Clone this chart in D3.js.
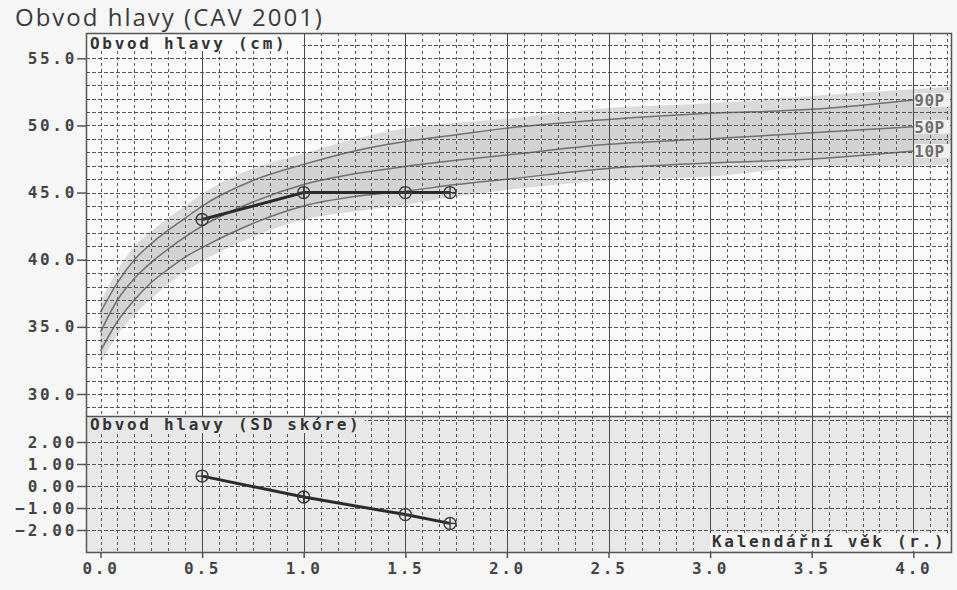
<!DOCTYPE html>
<html lang="cs">
<head>
    <meta charset="utf-8">
    <title>Obvod hlavy (CAV 2001)</title>
    <script src="https://d3js.org/d3.v7.min.js"></script>
    <style>
        html, body {
            margin: 0;
            padding: 0;
            background: #f6f6f6;
        }
        .mono {
            font-family: "DejaVu Sans Mono", monospace;
            font-weight: bold;
            font-size: 16px;
            letter-spacing: 2.7px;
        }
        .title {
            font-family: "Open Sans", sans-serif;
            font-size: 24px;
            letter-spacing: 2px;
            fill: #3a3a3a;
        }
        .grid line {
            stroke-width: 1px;
            shape-rendering: crispEdges;
        }
    </style>
</head>
<body>
<script type="text/javascript">

    // ages in years for the reference percentile curves
    var refAge = [0, 1/12, 2/12, 3/12, 4/12, 5/12, 0.5, 0.75, 1.0, 1.25, 1.5, 1.75, 2.0, 2.5, 3.0, 3.5, 4.0, 4.2];
    var p97 = [36.9, 39.2, 41.0, 42.1, 43.1, 44.0, 44.9, 46.8, 47.9, 49.0, 49.8, 50.2, 50.5, 51.3, 51.65, 52.2, 52.7, 52.9];
    var p90 = [36.1, 38.3, 40.0, 41.2, 42.2, 43.1, 44.0, 45.9, 47.1, 48.1, 48.8, 49.3, 49.8, 50.45, 50.9, 51.2, 51.9, 52.1];
    var p50 = [34.6, 37.0, 38.6, 39.8, 40.8, 41.7, 42.5, 44.3, 45.6, 46.4, 46.95, 47.4, 47.8, 48.6, 49.0, 49.45, 49.9, 50.05];
    var p10 = [33.2, 35.4, 37.0, 38.3, 39.3, 40.2, 40.9, 42.7, 44.0, 44.7, 45.1, 45.6, 46.0, 46.8, 47.2, 47.5, 48.1, 48.3];
    var p3  = [32.3, 34.4, 35.9, 37.1, 38.2, 39.1, 39.9, 41.7, 43.0, 43.6, 44.1, 44.7, 45.2, 45.9, 46.2, 46.9, 47.0, 47.1];
    var pctLabels = ["90P", "50P", "10P"];

    // measured child
    var childAge = [0.5, 1.0, 1.5, 1.72];
    var childHead = [43.0, 45.0, 45.0, 45.0];
    var childSD = [0.45, -0.5, -1.3, -1.7];

    var xTicks = [0, 0.5, 1, 1.5, 2, 2.5, 3, 3.5, 4];
    var headTicks = [30, 35, 40, 45, 50, 55];
    var sdTicks = [-2, -1, 0, 1, 2];

    var w = 957, h = 590;
    var fLeft = 86, fRight = 951, fTop = 33, fMid = 416, fBottom = 552;

    var x = d3.scaleLinear().domain([0, 4]).range([100.5, 913.3]);
    var yHead = d3.scaleLinear().domain([30, 55]).range([394, 58.3]);
    var ySD = d3.scaleLinear().domain([-2, 2]).range([530, 442]);

    var svg = d3.select("body").append("svg")
        .attr("width", w)
        .attr("height", h);

    var defs = svg.append("defs");
    defs.append("clipPath").attr("id", "clipTop").append("rect")
        .attr("x", fLeft).attr("y", fTop).attr("width", fRight - fLeft).attr("height", fMid - fTop);
    defs.append("clipPath").attr("id", "clipBot").append("rect")
        .attr("x", fLeft).attr("y", fMid).attr("width", fRight - fLeft).attr("height", fBottom - fMid);

    // panel backgrounds
    svg.append("rect").attr("x", fLeft).attr("y", fTop).attr("width", fRight - fLeft).attr("height", fMid - fTop)
        .attr("fill", "#fafafa");
    svg.append("rect").attr("x", fLeft).attr("y", fMid).attr("width", fRight - fLeft).attr("height", fBottom - fMid)
        .attr("fill", "#e8e8e8");

    // percentile bands
    var topG = svg.append("g").attr("clip-path", "url(#clipTop)");
    var rows = refAge.map(function(a, i) {
        return {a: a, p3: p3[i], p10: p10[i], p50: p50[i], p90: p90[i], p97: p97[i]};
    });
    var band = function(lo, hi) {
        return d3.area()
            .x(function(d) { return x(d.a); })
            .y0(function(d) { return yHead(d[lo]); })
            .y1(function(d) { return yHead(d[hi]); })
            .curve(d3.curveMonotoneX);
    };
    topG.append("path").datum(rows).attr("d", band("p3", "p97")).attr("fill", "#dadada");
    topG.append("path").datum(rows).attr("d", band("p10", "p90")).attr("fill", "#d2d2d2");

    // grid, month lines + cm lines
    var months = d3.range(0, 51);
    var grid = svg.append("g").attr("class", "grid");
    var gTop = grid.append("g").attr("clip-path", "url(#clipTop)");
    var gBot = grid.append("g").attr("clip-path", "url(#clipBot)");

    [gTop, gBot].forEach(function(g, k) {
        var y0 = k == 0 ? fTop : fMid, y1 = k == 0 ? fMid : fBottom;
        g.selectAll("line.v").data(months).enter().append("line")
            .attr("x1", function(m) { return Math.round(x(m / 12)) + 0.5; })
            .attr("x2", function(m) { return Math.round(x(m / 12)) + 0.5; })
            .attr("y1", y0).attr("y2", y1)
            .attr("stroke-dasharray", function(m) { return (m % 6 == 0 && m > 0) ? null : "3,3"; })
            .attr("stroke", function(m) { return (m % 6 == 0 && m > 0) ? "#4a4a4a" : "#5a5a5a"; });
    });

    gTop.selectAll("line.h").data(d3.range(28, 58)).enter().append("line")
        .attr("x1", fLeft).attr("x2", fRight)
        .attr("y1", function(v) { return Math.round(yHead(v)) + 0.5; })
        .attr("y2", function(v) { return Math.round(yHead(v)) + 0.5; })
        .attr("stroke", "#555")
        .attr("stroke-dasharray", "4,2");
    gBot.selectAll("line.h").data(d3.range(-3, 4)).enter().append("line")
        .attr("x1", fLeft).attr("x2", fRight)
        .attr("y1", function(v) { return Math.round(ySD(v)) + 0.5; })
        .attr("y2", function(v) { return Math.round(ySD(v)) + 0.5; })
        .attr("stroke", "#555")
        .attr("stroke-dasharray", "4,2");

    // percentile lines
    var curveLine = function(key) {
        return d3.line()
            .x(function(d) { return x(d.a); })
            .y(function(d) { return yHead(d[key]); })
            .curve(d3.curveMonotoneX);
    };
    var upTo4 = rows.filter(function(d) { return d.a <= 4; });
    ["p90", "p50", "p10"].forEach(function(k) {
        topG.append("path").datum(upTo4).attr("d", curveLine(k))
            .attr("fill", "none").attr("stroke", "#707070").attr("stroke-width", 1.5);
    });

    // percentile labels
    var last = upTo4[upTo4.length - 1];
    var lab = svg.append("g");
    [last.p90, last.p50, last.p10].forEach(function(v, i) {
        lab.append("rect").attr("x", x(4) + 1).attr("y", yHead(v) - 7).attr("width", fRight - x(4) - 2).attr("height", 14)
            .attr("fill", "#f0f0f0");
        lab.append("text").attr("class", "mono")
            .attr("x", x(4) + 1).attr("y", yHead(v) + 6)
            .attr("fill", "#6e6e6e").style("letter-spacing", "0.5px")
            .text(pctLabels[i]);
    });

    // panel title boxes
    svg.append("rect").attr("x", fLeft + 1).attr("y", fTop + 1).attr("width", x(1) - fLeft - 2).attr("height", 17)
        .attr("fill", "#fafafa");
    svg.append("text").attr("class", "mono").attr("x", 90).attr("y", 49).attr("fill", "#333")
        .text("Obvod hlavy (cm)");
    svg.append("rect").attr("x", fLeft + 1).attr("y", fMid + 1).attr("width", 278).attr("height", 16)
        .attr("fill", "#e8e8e8");
    svg.append("text").attr("class", "mono").attr("x", 90).attr("y", 430).attr("fill", "#333")
        .text("Obvod hlavy (SD skóre)");
    svg.append("rect").attr("x", 710).attr("y", 533).attr("width", fRight - 711).attr("height", 18)
        .attr("fill", "#f4f4f4");
    svg.append("text").attr("class", "mono").attr("x", 712).attr("y", 547).attr("fill", "#333")
        .text("Kalendářní věk (r.)");

    // child data
    var childRows = childAge.map(function(a, i) { return {a: a, v: childHead[i], sd: childSD[i]}; });
    var drawSeries = function(yScale, key) {
        svg.append("path").datum(childRows)
            .attr("d", d3.line().x(function(d) { return x(d.a); }).y(function(d) { return yScale(d[key]); }))
            .attr("fill", "none").attr("stroke", "#2a2a2a").attr("stroke-width", 3);
        var m = svg.append("g").selectAll("g").data(childRows).enter().append("g")
            .attr("transform", function(d) { return "translate(" + x(d.a) + "," + yScale(d[key]) + ")"; });
        m.append("circle").attr("r", 6).attr("fill", "none").attr("stroke", "#3a3a3a").attr("stroke-width", 1.4);
        m.append("line").attr("x1", -6).attr("x2", 6).attr("stroke", "#3a3a3a").attr("stroke-width", 1.4);
        m.append("line").attr("y1", -6).attr("y2", 6).attr("stroke", "#3a3a3a").attr("stroke-width", 1.4);
    };
    drawSeries(yHead, "v");
    drawSeries(ySD, "sd");

    // frames
    svg.append("rect").attr("x", fLeft + 0.5).attr("y", fTop + 0.5).attr("width", fRight - fLeft).attr("height", fBottom - fTop)
        .attr("fill", "none").attr("stroke", "#555").attr("stroke-width", 1.5);
    svg.append("line").attr("x1", fLeft).attr("x2", fRight).attr("y1", fMid + 0.5).attr("y2", fMid + 0.5)
        .attr("stroke", "#555").attr("stroke-width", 1.5);

    svg.append("text")
        .attr("class", "title")
        .attr("x", 15)
        .attr("y", 26)
        .text("Obvod hlavy (CAV 2001)");

    // axes
    var yAxisTop = d3.axisLeft(yHead).tickValues(headTicks).tickFormat(d3.format(".1f")).tickSize(9).tickPadding(0);
    var yAxisBot = d3.axisLeft(ySD).tickValues(sdTicks).tickFormat(d3.format(".2f")).tickSize(9).tickPadding(0);
    var xAxis = d3.axisBottom(x).tickValues(xTicks).tickFormat(d3.format(".1f")).tickSize(6).tickPadding(5);

    [
        svg.append("g").attr("transform", "translate(" + fLeft + ",0)").call(yAxisTop),
        svg.append("g").attr("transform", "translate(" + fLeft + ",0)").call(yAxisBot),
        svg.append("g").attr("transform", "translate(0," + fBottom + ")").call(xAxis)
    ].forEach(function(g) {
        g.select(".domain").remove();
        g.selectAll("line").attr("stroke", "#555").attr("stroke-width", 1.5);
        g.selectAll("text").attr("class", "mono").attr("fill", "#444")
            .attr("font-family", null).attr("font-size", null);
    });

</script>
</body>
</html>
